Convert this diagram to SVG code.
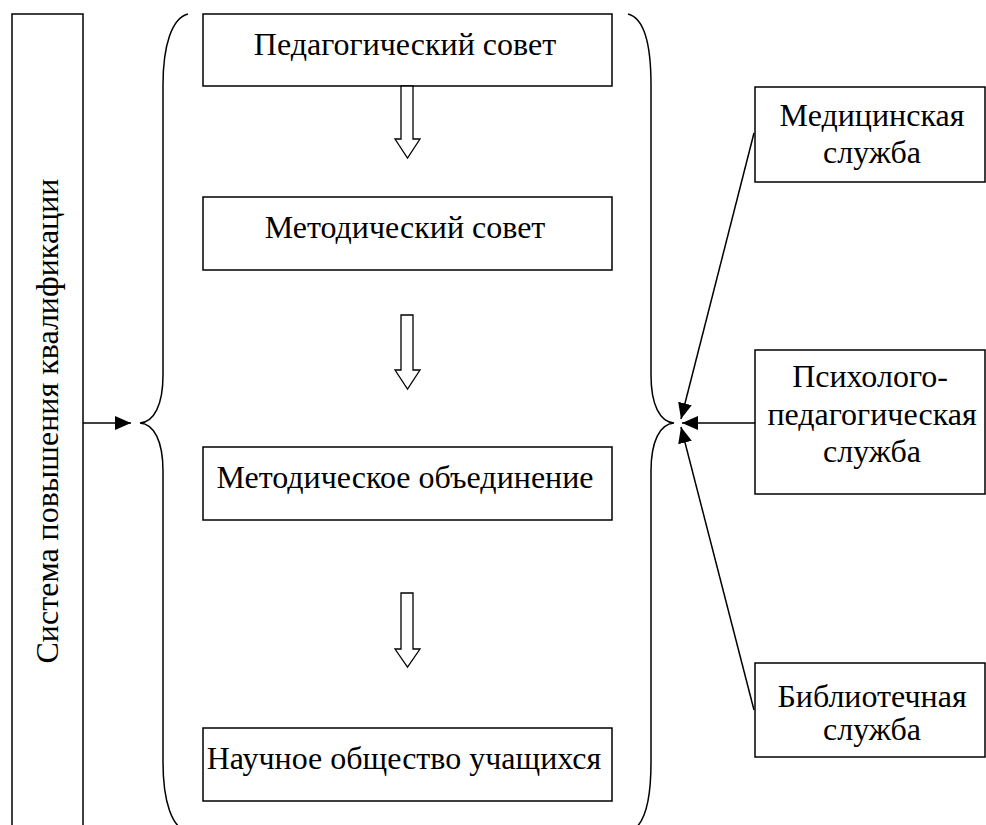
<svg xmlns="http://www.w3.org/2000/svg" width="986" height="825" viewBox="0 0 986 825">
<defs>
<style>
.box{fill:#fff;stroke:#000;stroke-width:1.5}
.brace{fill:none;stroke:#000;stroke-width:1.5}
.hollow{fill:#fff;stroke:#000;stroke-width:1.3;stroke-linejoin:miter}
.conn{fill:none;stroke:#000;stroke-width:1.5}
.t{font-family:'Liberation Serif','Times New Roman','Noto Serif','DejaVu Serif','Noto Serif CJK SC',serif;font-size:32px;fill:#000}
.c{text-anchor:middle}
</style>
<marker id="ah" viewBox="0 0 16 14" refX="16" refY="7" markerWidth="16" markerHeight="14" markerUnits="userSpaceOnUse" orient="auto">
<path d="M0,0 L16,7 L0,14 Z" fill="#000"/>
</marker>
</defs>
<rect width="986" height="825" fill="#fff"/>

<g id="system">
<rect class="box" x="12" y="14" width="71" height="830"/>
<text class="t c" transform="translate(58,421) rotate(-90)">Система повышения квалификации</text>
</g>

<g id="braces">
<path class="brace" d="M188,14 C172,18 163,45 163,85 L163,375 C163,405 154,422 140,423 C154,424 163,441 163,471 L163,762 C163,802 172,828 188,832"/>
<path class="brace" d="M628,14 C644,18 651,45 651,85 L651,375 C651,405 660,422 674,423 C660,424 651,441 651,471 L651,762 C651,802 644,828 628,832"/>
</g>

<g id="ped-sovet">
<rect class="box" x="203" y="14" width="409" height="72"/>
<text class="t c" x="405" y="55">Педагогический совет</text>
</g>
<g id="met-sovet">
<rect class="box" x="203" y="197" width="409" height="73"/>
<text class="t c" x="405" y="238">Методический совет</text>
</g>
<g id="met-ob">
<rect class="box" x="203" y="447" width="409" height="73"/>
<text class="t c" x="405" y="488">Методическое объединение</text>
</g>
<g id="nou">
<rect class="box" x="203" y="728" width="409" height="73"/>
<text class="t c" x="404" y="769">Научное общество учащихся</text>
</g>

<g id="med">
<rect class="box" x="755" y="87" width="230" height="95"/>
<text class="t c" x="872" y="126">Медицинская</text>
<text class="t c" x="872" y="163">служба</text>
</g>
<g id="psych">
<rect class="box" x="755" y="350" width="230" height="144"/>
<text class="t c" x="870" y="387">Психолого-</text>
<text class="t c" x="872" y="425">педагогическая</text>
<text class="t c" x="872" y="462">служба</text>
</g>
<g id="lib">
<rect class="box" x="755" y="663" width="230" height="94"/>
<text class="t c" x="872" y="707">Библиотечная</text>
<text class="t c" x="872" y="740">служба</text>
</g>

<g id="connectors">
<path class="hollow" d="M401,86 L413,86 L413,139 L420,139 L407.5,158 L395,139 L401,139 Z"/>
<path class="hollow" d="M401,315 L413,315 L413,370 L420,370 L407.5,389 L395,370 L401,370 Z"/>
<path class="hollow" d="M401,593 L413,593 L413,649 L420,649 L407.5,667 L395,649 L401,649 Z"/>
<line class="conn" x1="83" y1="423" x2="131" y2="423" marker-end="url(#ah)"/>
<line class="conn" x1="754" y1="133" x2="681" y2="419" marker-end="url(#ah)"/>
<line class="conn" x1="755" y1="423" x2="682" y2="423" marker-end="url(#ah)"/>
<line class="conn" x1="754" y1="710" x2="681" y2="427" marker-end="url(#ah)"/>
</g>
</svg>
